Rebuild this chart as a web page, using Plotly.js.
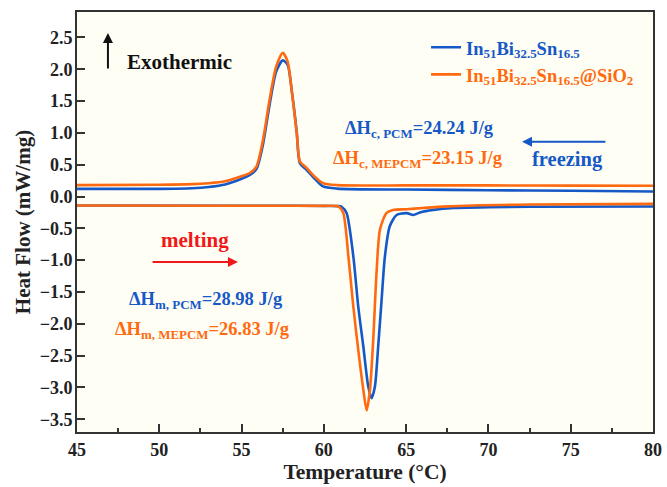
<!DOCTYPE html>
<html>
<head>
<meta charset="utf-8">
<script src="https://cdn.plot.ly/plotly-3.0.1.min.js"></script>
<style>html,body{margin:0;padding:0;background:#fff;}#chart{width:667px;height:487px;}</style>
</head>
<body>
<div id="chart"></div>
<script>
// Cooling (freezing) scan, shared temperature grid
const coolT = [45, 50, 52, 53, 54, 55, 55.5, 55.9, 56.3, 56.7, 57.1, 57.5, 57.8, 58.05, 58.35, 58.55, 58.95, 59.45, 59.95, 60.8, 65, 70, 75, 80];
const coolPCM = [0.12, 0.12, 0.13, 0.15, 0.19, 0.28, 0.34, 0.43, 0.82, 1.44, 1.96, 2.14, 2.07, 1.66, 1.02, 0.52, 0.42, 0.28, 0.16, 0.125, 0.11, 0.10, 0.09, 0.08];
const coolMEPCM = [0.18, 0.185, 0.195, 0.21, 0.24, 0.32, 0.37, 0.47, 0.89, 1.52, 2.04, 2.26, 2.12, 1.66, 1.0, 0.55, 0.45, 0.31, 0.21, 0.18, 0.175, 0.175, 0.172, 0.17];

// Heating (melting) scan
const heatT_PCM = [45, 55, 60.9, 61.08, 61.38, 61.79, 62.09, 62.4, 62.7, 62.9, 63.1, 63.3, 63.51, 63.71, 64.0, 64.42, 65.03, 65.43, 65.84, 66.65, 67.9, 72.5, 80];
const heatPCM = [-0.14, -0.145, -0.15, -0.16, -0.26, -0.94, -1.73, -2.36, -2.99, -3.17, -2.99, -2.36, -1.62, -0.94, -0.47, -0.29, -0.26, -0.29, -0.25, -0.21, -0.18, -0.16, -0.157];
const heatT_MEPCM = [45, 55, 60.0, 60.9, 61.18, 61.49, 61.79, 62.09, 62.4, 62.6, 62.8, 63.0, 63.2, 63.41, 63.8, 64.2, 65.0, 66.0, 67.5, 72.5, 80];
const heatMEPCM = [-0.14, -0.145, -0.146, -0.157, -0.26, -0.94, -1.73, -2.41, -3.04, -3.36, -3.04, -2.25, -1.2, -0.52, -0.26, -0.21, -0.2, -0.18, -0.155, -0.125, -0.115];

const seriesNames = ['In<sub>51</sub>Bi<sub>32.5</sub>Sn<sub>16.5</sub>', 'In<sub>51</sub>Bi<sub>32.5</sub>Sn<sub>16.5</sub>@SiO<sub>2</sub>'];
const xTicks = [45, 50, 55, 60, 65, 70, 75, 80];
const yTicks = [2.5, 2.0, 1.5, 1.0, 0.5, 0.0, -0.5, -1.0, -1.5, -2.0, -2.5, -3.0, -3.5];

const BLUE = '#1558C8';
const ORANGE = '#FF6A10';
const RED = '#F01818';
const FONT = 'Liberation Serif, Times New Roman, serif';

const traces = [
  {
    x: coolT.concat([null], heatT_PCM),
    y: coolPCM.concat([null], heatPCM),
    mode: 'lines', line: {color: BLUE, width: 2.6, shape: 'spline', smoothing: 0.7},
    name: '<span style="color:' + BLUE + '">' + seriesNames[0] + '</span>', connectgaps: false
  },
  {
    x: coolT.concat([null], heatT_MEPCM),
    y: coolMEPCM.concat([null], heatMEPCM),
    mode: 'lines', line: {color: ORANGE, width: 2.6, shape: 'spline', smoothing: 0.7},
    name: '<span style="color:' + ORANGE + '">' + seriesNames[1] + '</span>', connectgaps: false
  }
];

function txt(x, y, text, color, size, anchor) {
  return {x: x, y: y, xref: 'x', yref: 'y', text: text, showarrow: false,
    xanchor: anchor || 'center', yanchor: 'middle',
    font: {family: FONT, size: size || 18.5, color: color, weight: 'bold'}};
}
function arrow(x0, y0, x1, y1, color) {
  return {x: x1, y: y1, ax: x0, ay: y0, xref: 'x', yref: 'y', axref: 'x', ayref: 'y',
    text: '', showarrow: true, arrowhead: 2, arrowsize: 1, arrowwidth: 2, arrowcolor: color};
}

const layout = {
  width: 667, height: 487,
  margin: {l: 77, r: 14, t: 12, b: 55},
  paper_bgcolor: '#ffffff',
  plot_bgcolor: '#FFFEF4',
  showlegend: true,
  legend: {x: 0.606, y: 0.96, xanchor: 'left', yanchor: 'top', bgcolor: 'rgba(0,0,0,0)',
    font: {family: FONT, size: 18.5, color: BLUE, weight: 'bold'}, tracegroupgap: 0},
  xaxis: {
    range: [45, 80], tickvals: xTicks, ticktext: xTicks.map(String),
    ticks: 'inside', ticklen: 8, tickwidth: 2, tickcolor: '#333',
    minor: {ticks: 'inside', ticklen: 4, tickwidth: 2, tickcolor: '#333', dtick: 2.5, tick0: 45, showgrid: false},
    showline: true, linecolor: '#333', linewidth: 2, mirror: true,
    showgrid: false, zeroline: false,
    tickfont: {family: FONT, size: 18, color: '#222', weight: 'bold'},
    title: {text: 'Temperature (°C)', font: {family: FONT, size: 21.5, color: '#222', weight: 'bold'}, standoff: 4}
  },
  yaxis: {
    range: [-3.7, 2.9], tickvals: yTicks, ticktext: yTicks.map(v => v < 0 ? '\u2212' + Math.abs(v).toFixed(1) : v.toFixed(1)),
    ticks: 'inside', ticklen: 8, tickwidth: 2, tickcolor: '#333',
    ticklabelstandoff: -1,
    showline: true, linecolor: '#333', linewidth: 2, mirror: true,
    showgrid: false, zeroline: false,
    tickfont: {family: FONT, size: 18, color: '#222', weight: 'bold'},
    title: {text: 'Heat Flow (mW/mg)', font: {family: FONT, size: 21, color: '#222', weight: 'bold'}, standoff: 3}
  },
  annotations: [
    arrow(46.88, 1.99, 46.88, 2.57, '#111'),
    txt(47.9, 2.12, 'Exothermic', '#111', 21, 'left'),
    txt(65.8, 1.05, '\u0394H<sub>c, PCM</sub>=24.24 J/g', BLUE),
    txt(65.7, 0.58, '\u0394H<sub>c, MEPCM</sub>=23.15 J/g', ORANGE),
    arrow(77.2, 0.86, 72.04, 0.86, BLUE),
    txt(74.83, 0.58, 'freezing', BLUE, 20.5),
    txt(52.17, -0.68, 'melting', RED, 21),
    arrow(49.5, -1.03, 54.78, -1.03, RED),
    txt(52.84, -1.63, '\u0394H<sub>m, PCM</sub>=28.98 J/g', BLUE),
    txt(52.6, -2.1, '\u0394H<sub>m, MEPCM</sub>=26.83 J/g', ORANGE)
  ]
};

Plotly.newPlot('chart', traces, layout, {staticPlot: true, displayModeBar: false});
</script>
</body>
</html>
